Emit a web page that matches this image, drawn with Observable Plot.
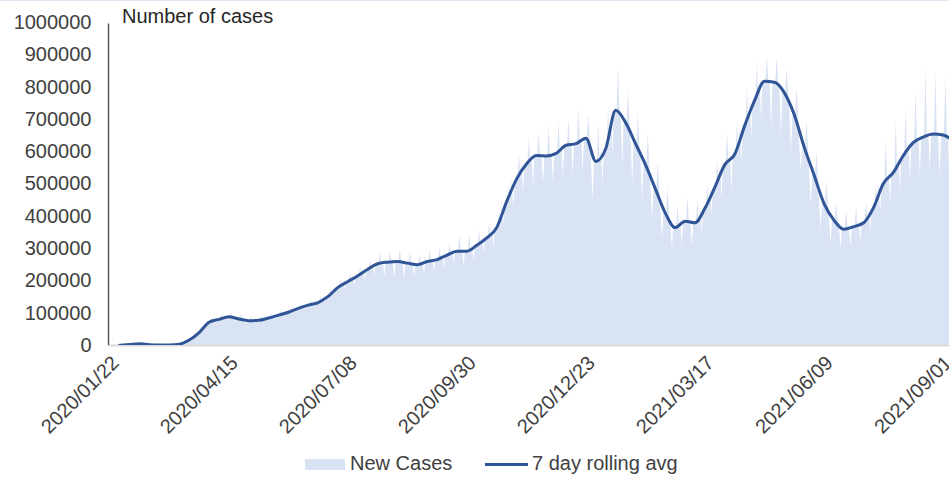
<!DOCTYPE html>
<html>
<head>
<meta charset="utf-8">
<script src="https://cdn.jsdelivr.net/npm/d3@7"></script>
<script src="https://cdn.jsdelivr.net/npm/@observablehq/plot@0.6"></script>
<style>
  html, body { margin: 0; padding: 0; background: #fff; }
  #wrap { position: relative; width: 949px; height: 477px; overflow: hidden;
          font-family: "Liberation Sans", Arial, sans-serif; color: #404040; }
  #topline { position: absolute; left: 0; top: 0; width: 949px; height: 1px; background: #dfe6f4; }
  #ytitle { position: absolute; left: 122px; top: 5px; font-size: 20px; color: #262626; white-space: nowrap; }
  .lg { position: absolute; white-space: nowrap; font-size: 20px; color: #404040; }
</style>
</head>
<body>
<div id="wrap">
  <div id="chart"></div>
  <div id="topline"></div>
  <div id="ytitle"></div>
  <div id="legend"></div>
</div>
<script>
// ---------- data ----------
const startDate = "2020-01-22";           // first category of the series
const endDate = "2021-09-01";             // last visible category
const seriesNames = ["New Cases", "7 day rolling avg"];
const yTitle = "Number of cases";
const tickLabels = ["2020/01/22", "2020/04/15", "2020/07/08", "2020/09/30",
                    "2020/12/23", "2021/03/17", "2021/06/09", "2021/09/01"];
const yTicks = [0, 100000, 200000, 300000, 400000, 500000, 600000, 700000, 800000, 900000, 1000000];

// 7 day rolling average, one reading per week (mid-week)
const avg7 = [
  600, 3000, 5500, 2500, 1500, 1500, 4000, 17000, 40000, 72000,
  81000, 89000, 82000, 77000, 78000, 85000, 94000, 103000, 115000, 125000,
  133000, 152000, 180000, 198000, 216000, 236000, 253000, 258000, 260000, 255000,
  250000, 260000, 266000, 280000, 292000, 292000, 310000, 333000, 365000, 445000,
  515000, 562000, 588000, 587000, 595000, 620000, 625000, 642000, 570000, 610000,
  728000, 690000, 625000, 560000, 485000, 410000, 365000, 385000, 380000, 425000,
  490000, 560000, 592000, 680000, 758000, 818000, 815000, 783000, 715000, 615000,
  528000, 440000, 388000, 360000, 368000, 380000, 427000, 502000, 536000, 588000,
  628000, 645000, 655000, 652000, 635000
];
// New Cases: highest daily value in each week
const weeklyHigh = [
  1000, 4500, 15000, 3500, 2500, 2500, 5500, 22000, 50000, 85000,
  96000, 100000, 96000, 88000, 91000, 98000, 108000, 118000, 130000, 142000,
  152000, 175000, 205000, 225000, 245000, 265000, 288000, 292000, 297000, 290000,
  285000, 298000, 305000, 318000, 340000, 347000, 360000, 380000, 409000, 500000,
  600000, 645000, 660000, 680000, 690000, 700000, 735000, 720000, 690000, 740000,
  870000, 790000, 720000, 660000, 570000, 490000, 440000, 460000, 455000, 500000,
  580000, 660000, 700000, 800000, 880000, 900000, 895000, 860000, 800000, 700000,
  600000, 510000, 445000, 420000, 430000, 450000, 500000, 640000, 697000, 737000,
  790000, 858000, 845000, 836000, 790000
];
// New Cases: lowest daily value in each week
const weeklyLow = [
  300, 1500, 2000, 1500, 800, 900, 2500, 12000, 32000, 60000,
  68000, 75000, 70000, 66000, 67000, 72000, 80000, 88000, 98000, 108000,
  115000, 130000, 155000, 170000, 185000, 200000, 215000, 212000, 207000, 205000,
  210000, 222000, 225000, 235000, 250000, 245000, 260000, 285000, 300000, 370000,
  420000, 470000, 490000, 495000, 500000, 520000, 530000, 540000, 443000, 500000,
  590000, 560000, 505000, 450000, 390000, 330000, 300000, 310000, 305000, 345000,
  400000, 450000, 480000, 560000, 640000, 697000, 675000, 650000, 590000, 542000,
  430000, 360000, 315000, 300000, 305000, 315000, 350000, 410000, 440000, 480000,
  510000, 530000, 540000, 520000, 500000
];

// ---------- build tables ----------
const parseDay = d3.utcParse("%Y-%m-%d");
const parseTick = d3.utcParse("%Y/%m/%d");
const day0 = parseDay(startDate);
const dayOf = n => new Date(day0.getTime() + n * 864e5);

const lineData = avg7.map((v, k) => ({ date: dayOf(7 * k + 3), value: v }));
const areaData = avg7.flatMap((v, k) => [
  { date: dayOf(7 * k),     value: v },
  { date: dayOf(7 * k + 1), value: weeklyLow[k] },
  { date: dayOf(7 * k + 2), value: v },
  { date: dayOf(7 * k + 4), value: v },
  { date: dayOf(7 * k + 5), value: weeklyHigh[k] },
  { date: dayOf(7 * k + 6), value: v }
]);
const tickDates = tickLabels.map(parseTick);

const fillColor = "#dae3f3";
const lineColor = "#2f5597";
const W = 949, H = 445;
const xStart = dayOf(-5);
const xEnd = new Date(parseDay(endDate).getTime() + 0.6 * 864e5);

const chart = Plot.plot({
  width: W,
  height: H,
  marginLeft: 108,
  marginRight: 0,
  marginTop: 22,
  marginBottom: 100,
  style: { fontFamily: "'Liberation Sans', Arial, sans-serif", fontSize: "20px", color: "#404040", background: "transparent" },
  x: { type: "utc", domain: [xStart, xEnd] },
  y: { domain: [0, 1000000] },
  marks: [
    Plot.areaY(areaData, { x: "date", y: "value", fill: fillColor, curve: "linear", clip: true }),
    Plot.ruleY([0], { stroke: "#d9d9d9", strokeWidth: 2 }),
    Plot.lineY(lineData, { x: "date", y: "value", stroke: lineColor, strokeWidth: 3, curve: "monotone-x", clip: true, strokeLinejoin: "round" }),
    Plot.ruleX([xStart], { y1: 0, y2: 995000, stroke: "#595959", strokeWidth: 1.5 }),
    Plot.axisY({ ticks: yTicks, tickSize: 0, tickPadding: 17, tickFormat: d => String(d), label: null, fontSize: 20 }),
    Plot.axisX({ ticks: tickDates, tickSize: 0, tickPadding: 14, tickRotate: -45, tickFormat: d3.utcFormat("%Y/%m/%d"), label: null, fontSize: 20 })
  ]
});
document.getElementById("chart").appendChild(chart);
document.getElementById("ytitle").textContent = yTitle;

// ---------- legend ----------
const lg = document.getElementById("legend");
lg.innerHTML =
  `<div class="lg" style="left:305px;top:459px;width:40px;height:11px;background:${fillColor}"></div>` +
  `<div class="lg" style="left:350px;top:452px;">${seriesNames[0]}</div>` +
  `<div class="lg" style="left:485px;top:463px;width:43px;height:3px;background:${lineColor}"></div>` +
  `<div class="lg" style="left:532px;top:452px;">${seriesNames[1]}</div>`;
</script>
</body>
</html>
